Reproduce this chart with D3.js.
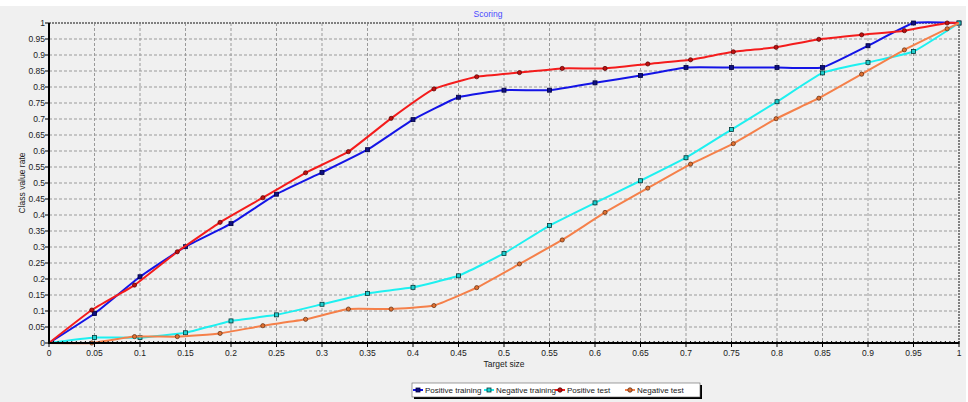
<!DOCTYPE html>
<meta charset="utf-8">
<style>
body { margin: 0; background: #fff; }
text { font-family: "Liberation Sans", Arial, sans-serif; }
.grid line { stroke: #9a9a9a; stroke-dasharray: 3,2; stroke-width: 1px; }
.tick-label { font-size: 8.5px; fill: #202020; }
.series { fill: none; stroke-width: 2px; }
</style>
<svg width="968" height="402"></svg>
<script src="https://d3js.org/d3.v7.min.js"></script>
<script>
// ticks
var xTicks = [0, 0.05, 0.1, 0.15, 0.2, 0.25, 0.3, 0.35, 0.4, 0.45, 0.5, 0.55, 0.6, 0.65, 0.7, 0.75, 0.8, 0.85, 0.9, 0.95, 1];
var yTicks = [0, 0.05, 0.1, 0.15, 0.2, 0.25, 0.3, 0.35, 0.4, 0.45, 0.5, 0.55, 0.6, 0.65, 0.7, 0.75, 0.8, 0.85, 0.9, 0.95, 1];

// training series are sampled on the 0.05 grid
var trainingX = [0, 0.05, 0.1, 0.15, 0.2, 0.25, 0.3, 0.35, 0.4, 0.45, 0.5, 0.55, 0.6, 0.65, 0.7, 0.75, 0.8, 0.85, 0.9, 0.95, 1];
var positiveTraining = [0, 0.092, 0.207, 0.301, 0.373, 0.465, 0.533, 0.604, 0.698, 0.768, 0.79, 0.79, 0.813, 0.836, 0.861, 0.861, 0.861, 0.861, 0.929, 1, 1];
var negativeTraining = [0, 0.017, 0.017, 0.032, 0.069, 0.088, 0.121, 0.155, 0.174, 0.21, 0.28, 0.367, 0.438, 0.507, 0.579, 0.667, 0.754, 0.844, 0.877, 0.911, 1];

// test series
var testX = [0, 0.047, 0.094, 0.141, 0.188, 0.235, 0.282, 0.329, 0.376, 0.423, 0.47, 0.517, 0.564, 0.611, 0.658, 0.705, 0.752, 0.799, 0.846, 0.893, 0.94, 0.987, 1];
var positiveTest = [0, 0.103, 0.181, 0.285, 0.377, 0.454, 0.532, 0.598, 0.702, 0.794, 0.832, 0.845, 0.858, 0.858, 0.872, 0.885, 0.91, 0.924, 0.949, 0.963, 0.976, 1, 1];
var negativeTest = [0, 0, 0.02, 0.02, 0.03, 0.054, 0.074, 0.106, 0.106, 0.117, 0.173, 0.247, 0.322, 0.408, 0.484, 0.559, 0.623, 0.701, 0.765, 0.84, 0.916, 0.982, 1];

var series = [
  {name: "Positive training", xs: trainingX, ys: positiveTraining, color: "#1414e6", marker: "square", fill: "#101080", edge: "#000040"},
  {name: "Negative training", xs: trainingX, ys: negativeTraining, color: "#1ef0f0", marker: "square", fill: "#20d0d0", edge: "#003838"},
  {name: "Positive test", xs: testX, ys: positiveTest, color: "#f41c1c", marker: "circle", fill: "#c01010", edge: "#500000"},
  {name: "Negative test", xs: testX, ys: negativeTest, color: "#f5804a", marker: "circle", fill: "#e07030", edge: "#5a2a10"}
];

var svg = d3.select("svg"),
    margin = {top: 23, left: 49},
    width = 910,
    height = 320;

svg.append("rect")
    .attr("x", 0).attr("y", 6)
    .attr("width", 966).attr("height", 396)
    .attr("fill", "#f0f0f0");

var x = d3.scaleLinear().domain([0, 1]).range([0, width]),
    y = d3.scaleLinear().domain([0, 1]).range([height, 0]);

var g = svg.append("g").attr("transform", "translate(" + margin.left + "," + margin.top + ")");

// grid
var grid = g.append("g").attr("class", "grid");
grid.selectAll(".gx")
    .data(xTicks.slice(1, -1))
  .enter().append("line")
    .attr("x1", function(d) { return x(d); })
    .attr("x2", function(d) { return x(d); })
    .attr("y1", 0).attr("y2", height);
grid.selectAll(".gy")
    .data(yTicks.slice(1, -1))
  .enter().append("line")
    .attr("y1", function(d) { return y(d); })
    .attr("y2", function(d) { return y(d); })
    .attr("x1", 0).attr("x2", width);

// top and right border
g.append("line").attr("x1", 0).attr("x2", width).attr("y1", 0).attr("y2", 0)
    .attr("stroke", "#808080").attr("stroke-width", 2).attr("stroke-dasharray", "2,1");
g.append("line").attr("x1", width).attr("x2", width).attr("y1", 0).attr("y2", height)
    .attr("stroke", "#808080").attr("stroke-width", 2).attr("stroke-dasharray", "2,1");

// lines, lightly smoothed like the original
var line = d3.line()
    .curve(d3.curveCardinal.tension(0.6))
    .x(function(d) { return x(d[0]); })
    .y(function(d) { return y(d[1]); });

series.forEach(function(s) {
  var pts = s.xs.map(function(v, i) { return [v, s.ys[i]]; });
  g.append("path")
      .datum(pts)
      .attr("class", "series")
      .attr("stroke", s.color)
      .attr("d", line);
  var m = g.append("g");
  if (s.marker == "square") {
    m.selectAll("rect")
        .data(pts.slice(1))
      .enter().append("rect")
        .attr("x", function(d) { return x(d[0]) - 2; })
        .attr("y", function(d) { return y(d[1]) - 2; })
        .attr("width", 4).attr("height", 4)
        .attr("fill", s.fill)
        .attr("stroke", s.edge)
        .attr("stroke-width", 0.8);
  } else {
    m.selectAll("circle")
        .data(pts.slice(1, -1))
      .enter().append("circle")
        .attr("cx", function(d) { return x(d[0]); })
        .attr("cy", function(d) { return y(d[1]); })
        .attr("r", 2.1)
        .attr("fill", s.fill)
        .attr("stroke", s.edge)
        .attr("stroke-width", 0.7);
  }
});

// axes
var xAxis = g.append("g").attr("transform", "translate(0," + height + ")");
xAxis.selectAll(".minor")
    .data(d3.range(0, 201))
  .enter().append("line")
    .attr("x1", function(d) { return x(d / 200); })
    .attr("x2", function(d) { return x(d / 200); })
    .attr("y1", -2).attr("y2", 1)
    .attr("stroke", "#000").attr("stroke-width", 1);
xAxis.append("line").attr("x1", 0).attr("x2", width).attr("y1", 0).attr("y2", 0)
    .attr("stroke", "#000").attr("stroke-width", 2);
xAxis.selectAll(".major")
    .data(xTicks)
  .enter().append("line")
    .attr("x1", function(d) { return x(d); })
    .attr("x2", function(d) { return x(d); })
    .attr("y1", 0).attr("y2", 4)
    .attr("stroke", "#000");
xAxis.selectAll("text")
    .data(xTicks)
  .enter().append("text")
    .attr("class", "tick-label")
    .attr("x", function(d) { return x(d); })
    .attr("y", 13)
    .attr("text-anchor", "middle")
    .text(function(d) { return d; });

var yAxis = g.append("g");
yAxis.append("line").attr("x1", 0).attr("x2", 0).attr("y1", 0).attr("y2", height + 1)
    .attr("stroke", "#000").attr("stroke-width", 2);
yAxis.selectAll("line.major")
    .data(yTicks)
  .enter().append("line")
    .attr("y1", function(d) { return y(d); })
    .attr("y2", function(d) { return y(d); })
    .attr("x1", -4).attr("x2", 0)
    .attr("stroke", "#000");
yAxis.selectAll("text")
    .data(yTicks)
  .enter().append("text")
    .attr("class", "tick-label")
    .attr("x", -4)
    .attr("y", function(d) { return y(d); })
    .attr("dy", "0.35em")
    .attr("text-anchor", "end")
    .text(function(d) { return d; });

// titles
svg.append("text")
    .attr("x", 488).attr("y", 17)
    .attr("text-anchor", "middle")
    .style("font-size", "8.5px")
    .attr("fill", "#4a4aff")
    .text("Scoring");
svg.append("text")
    .attr("x", 504).attr("y", 367)
    .attr("text-anchor", "middle")
    .style("font-size", "8.5px")
    .attr("fill", "#202020")
    .text("Target size");
svg.append("text")
    .attr("transform", "translate(25," + (margin.top + height / 2) + ") rotate(-90)")
    .attr("text-anchor", "middle")
    .style("font-size", "8.5px")
    .attr("fill", "#202020")
    .text("Class value rate");

// legend
var legend = svg.append("g").attr("transform", "translate(412,383)");
legend.append("rect").attr("x", 2).attr("y", 2).attr("width", 288).attr("height", 14).attr("fill", "#000");
legend.append("rect").attr("x", 0).attr("y", 0).attr("width", 288).attr("height", 14)
    .attr("fill", "#fff").attr("stroke", "#606060").attr("stroke-width", 0.6);
var legendX = [1, 72, 143, 213];
var item = legend.selectAll(".item")
    .data(series)
  .enter().append("g")
    .attr("transform", function(d, i) { return "translate(" + legendX[i] + ",7)"; });
item.append("line")
    .attr("x1", 0).attr("x2", 10)
    .attr("stroke", function(d) { return d.color; })
    .attr("stroke-width", 2);
item.each(function(d) {
  var sel = d3.select(this);
  if (d.marker == "square") {
    sel.append("rect").attr("x", 3).attr("y", -2).attr("width", 4).attr("height", 4)
        .attr("fill", d.fill).attr("stroke", d.edge).attr("stroke-width", 0.8);
  } else {
    sel.append("circle").attr("cx", 5).attr("cy", 0).attr("r", 2.2)
        .attr("fill", d.fill).attr("stroke", d.edge).attr("stroke-width", 0.8);
  }
});
item.append("text")
    .attr("x", 12)
    .attr("dy", "0.35em")
    .style("font-size", "8px")
    .attr("fill", "#202020")
    .text(function(d) { return d.name; });
</script>
